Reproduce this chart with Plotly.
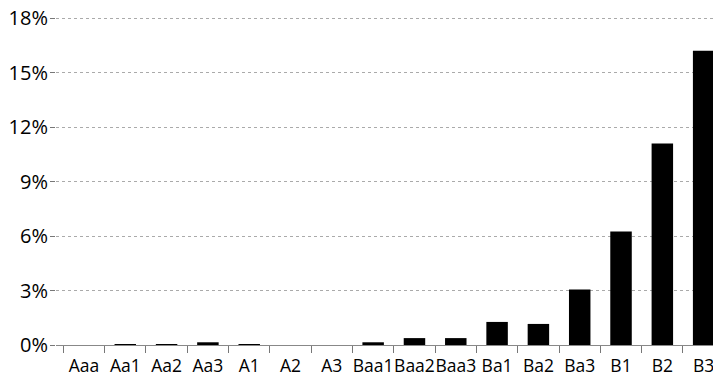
import plotly.graph_objects as go

ratings = ["Aaa", "Aa1", "Aa2", "Aa3", "A1", "A2", "A3", "Baa1", "Baa2", "Baa3",
           "Ba1", "Ba2", "Ba3", "B1", "B2", "B3"]
default_rate = [0.0, 0.02, 0.05, 0.15, 0.02, 0.0, 0.0, 0.15, 0.38, 0.38,
                1.27, 1.16, 3.05, 6.25, 11.1, 16.2]
y_ticks = [0, 3, 6, 9, 12, 15, 18]
y_tick_labels = ["0%", "3%", "6%", "9%", "12%", "15%", "18%"]

fig = go.Figure(go.Bar(
    x=ratings, y=default_rate, width=0.52,
    marker=dict(color="black", line=dict(width=0)),
))

# page body has an 8px margin, so the figure is slightly smaller and shifted
fig.update_layout(
    width=713, height=368,
    margin=dict(l=48, r=0, t=9, b=31),
    paper_bgcolor="white", plot_bgcolor="white",
    showlegend=False,
    font=dict(family="Open Sans", color="black"),
    xaxis=dict(
        type="category", range=[-0.677, 15.42], automargin=False,
        tickson="boundaries", ticks="outside", ticklen=7, tickcolor="#777",
        showline=True, linecolor="#888", linewidth=1, tickangle=0,
        showgrid=False, tickfont=dict(size=17.5), ticklabelstandoff=5,
        ticklabeloverflow="allow",
    ),
    yaxis=dict(
        range=[0, 18.06], tickvals=y_ticks, ticktext=y_tick_labels, automargin=False,
        ticks="outside", ticklen=5, tickcolor="#777",
        showgrid=True, gridcolor="#aaa", griddash="dot", gridwidth=1,
        zeroline=False, showline=False, tickfont=dict(size=20),
        ticklabelstandoff=-2, ticklabeloverflow="allow",
    ),
)

fig.write_html("out.html")
